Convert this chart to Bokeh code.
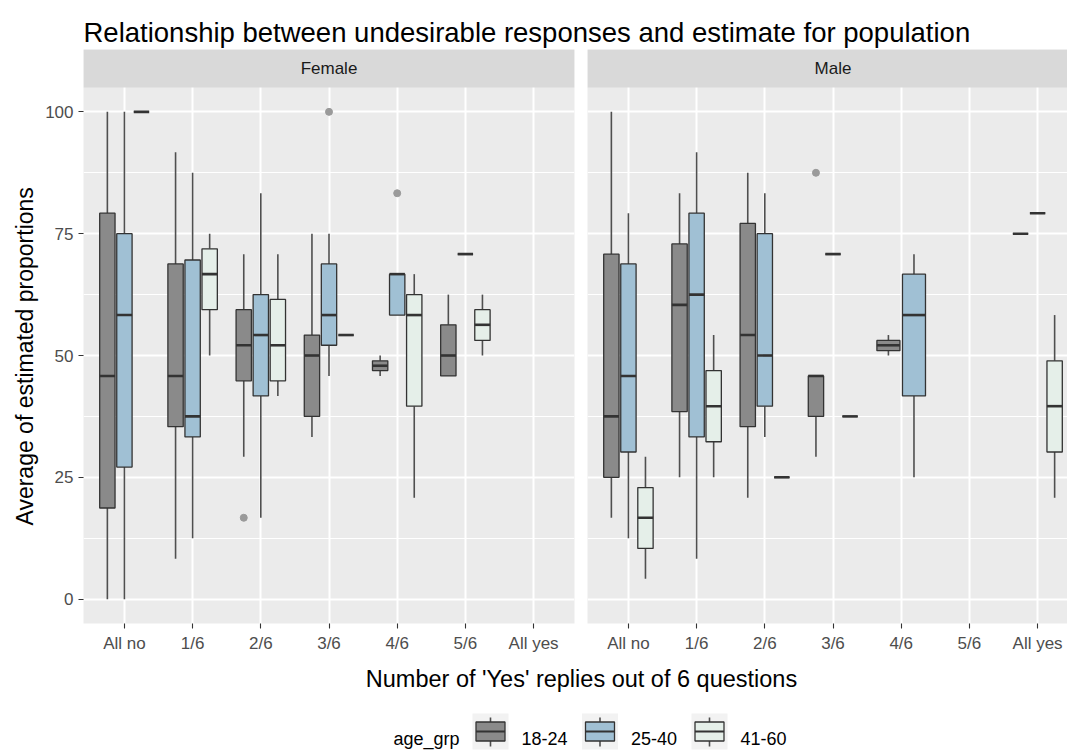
import math
from bokeh.plotting import figure
from bokeh.models import Range1d, FixedTicker, ColumnDataSource
from bokeh.layouts import column, row
from bokeh.embed import file_html
from bokeh.resources import INLINE
from bokeh.core.properties import value

# ---------------- data ----------------
categories = ["All no", "1/6", "2/6", "3/6", "4/6", "5/6", "All yes"]
age_groups = ["18-24", "25-40", "41-60"]
panels = ["Female", "Male"]

# per category: (lower whisker, Q1, median, Q3, upper whisker); None = no respondents
female_18_24 = [(0.0, 18.7, 45.8, 79.2, 100.0), (8.3, 35.4, 45.8, 68.8, 91.7),
                (29.2, 44.8, 52.1, 59.4, 70.8), (33.3, 37.5, 50.0, 54.2, 75.0),
                (45.8, 46.9, 47.9, 48.9, 50.0), (45.8, 45.8, 50.0, 56.3, 62.5), None]
female_25_40 = [(0.0, 27.1, 58.3, 75.0, 100.0), (12.5, 33.3, 37.5, 69.6, 87.5),
                (16.7, 41.7, 54.2, 62.5, 83.3), (45.8, 52.1, 58.3, 68.8, 75.0),
                (58.3, 58.3, 66.7, 66.7, 66.7), (70.8, 70.8, 70.8, 70.8, 70.8), None]
female_41_60 = [(100.0, 100.0, 100.0, 100.0, 100.0), (50.0, 59.4, 66.7, 71.9, 75.0),
                (41.7, 44.8, 52.1, 61.5, 70.8), (54.2, 54.2, 54.2, 54.2, 54.2),
                (20.8, 39.6, 58.3, 62.5, 66.7), (50.0, 53.1, 56.3, 59.4, 62.5), None]
male_18_24 = [(16.7, 25.0, 37.5, 70.8, 100.0), (25.0, 38.5, 60.4, 72.9, 83.3),
              (20.8, 35.4, 54.2, 77.1, 87.5), (29.2, 37.5, 45.8, 45.8, 45.8),
              (50.0, 51.0, 52.1, 53.1, 54.2), None, (75.0, 75.0, 75.0, 75.0, 75.0)]
male_25_40 = [(12.5, 30.2, 45.8, 68.8, 79.2), (8.3, 33.3, 62.5, 79.2, 91.7),
              (33.3, 39.6, 50.0, 75.0, 83.3), (70.8, 70.8, 70.8, 70.8, 70.8),
              (25.0, 41.7, 58.3, 66.7, 70.8), None, (79.2, 79.2, 79.2, 79.2, 79.2)]
male_41_60 = [(4.2, 10.4, 16.7, 22.9, 29.2), (25.0, 32.3, 39.6, 46.9, 54.2),
              (25.0, 25.0, 25.0, 25.0, 25.0), (37.5, 37.5, 37.5, 37.5, 37.5),
              None, None, (20.8, 30.2, 39.6, 48.9, 58.3)]

female_outlier_group = ["18-24", "25-40", "25-40"]
female_outlier_cat = ["2/6", "3/6", "4/6"]
female_outlier_val = [16.7, 100.0, 83.3]
male_outlier_group = ["18-24"]
male_outlier_cat = ["3/6"]
male_outlier_val = [87.5]

y_ticks = [0, 25, 50, 75, 100]
y_minor = [12.5, 37.5, 62.5, 87.5]

# ---------------- style ----------------
FONT_NAME = "Liberation Sans"
FONT = value(FONT_NAME)
fills = {"18-24": "#8A8A8A", "25-40": "#A0C0D4", "41-60": "#E5EFE9"}
EDGE = "#333333"
WHISK = "#4F4F4F"
PANEL_BG = "#EBEBEB"
STRIP_BG = "#D9D9D9"
Y0, Y1 = -5.0, 112.8        # includes strip band above the panel
STRIP_LO = 105.0
TOTAL_W = 1067
YT_W = 42                   # width of the y-title strip


def dodge_layout(stats):
    """Return per (group, category) x-centre and box width, ggplot dodge2 style."""
    pos = {}
    for ci, cat in enumerate(categories):
        present = [g for g in age_groups if stats[g][ci] is not None]
        n = len(present)
        if n == 0:
            continue
        slot = 0.75 / n
        for k, g in enumerate(present):
            pos[(g, cat)] = ((ci + 1) + (k - (n - 1) / 2) * slot, slot * 0.9)
    return pos


def make_panel(name, stats, out_g, out_c, out_v, width, x_end, left, right, show_y):
    p = figure(width=width, height=608, x_range=Range1d(0.4, x_end), y_range=Range1d(Y0, Y1),
               output_backend="svg", toolbar_location=None,
               min_border_left=left, min_border_right=right, min_border_top=0, min_border_bottom=34)
    p.background_fill_color = PANEL_BG
    p.border_fill_color = "white"
    p.outline_line_color = None

    xt = FixedTicker(ticks=list(range(1, len(categories) + 1)))
    yt = FixedTicker(ticks=y_ticks, minor_ticks=y_minor)
    p.xaxis.ticker = xt
    p.xgrid.ticker = xt
    p.yaxis.ticker = yt
    p.ygrid.ticker = yt
    p.xaxis.major_label_overrides = {i + 1: c for i, c in enumerate(categories)}
    for ax in (p.xaxis, p.yaxis):
        ax.axis_line_color = None
        ax.major_tick_line_color = EDGE
        ax.major_tick_line_width = 1.1
        ax.major_tick_in = 0
        ax.major_tick_out = 5
        ax.minor_tick_line_color = None
        ax.major_label_text_font = FONT_NAME
        ax.major_label_text_font_size = "17px"
        ax.major_label_text_color = "#4D4D4D"
        ax.major_label_standoff = 5
    if not show_y:
        p.yaxis.visible = False
    p.xgrid.grid_line_color = "white"
    p.xgrid.grid_line_width = 2
    p.ygrid.grid_line_color = "white"
    p.ygrid.grid_line_width = 2
    p.ygrid.minor_grid_line_color = "white"
    p.ygrid.minor_grid_line_width = 1.1

    # facet strip
    p.quad(left=[0.4], right=[len(categories) + 0.6], bottom=[STRIP_LO], top=[Y1],
           fill_color=STRIP_BG, line_color=None)
    p.text(x=[(len(categories) + 1) / 2], y=[(STRIP_LO + Y1) / 2], text=[name],
           text_font=FONT, text_font_size="17px", text_color="#1A1A1A",
           text_align="center", text_baseline="middle")

    pos = dodge_layout(stats)
    d = dict(x=[], l=[], r=[], lo=[], q1=[], med=[], q3=[], hi=[], fill=[])
    for ci, cat in enumerate(categories):
        for g in age_groups:
            s = stats[g][ci]
            if s is None:
                continue
            xc, bw = pos[(g, cat)]
            d["x"].append(xc)
            d["l"].append(xc - bw / 2)
            d["r"].append(xc + bw / 2)
            for key, v in zip(["lo", "q1", "med", "q3", "hi"], s):
                d[key].append(v)
            d["fill"].append(fills[g])
    src = ColumnDataSource(d)
    p.segment(x0="x", y0="q3", x1="x", y1="hi", source=src, line_color=WHISK, line_width=1.6)
    p.segment(x0="x", y0="q1", x1="x", y1="lo", source=src, line_color=WHISK, line_width=1.6)
    p.quad(left="l", right="r", bottom="q1", top="q3", source=src,
           fill_color="fill", line_color=EDGE, line_width=1.3)
    p.segment(x0="l", y0="med", x1="r", y1="med", source=src, line_color=EDGE, line_width=2.6)

    ox = [pos[(g, c)][0] for g, c in zip(out_g, out_c)]
    p.scatter(x=ox, y=out_v, size=7, fill_color="#9A9A9A", line_color="#9A9A9A")
    return p


female_stats = {"18-24": female_18_24, "25-40": female_25_40, "41-60": female_41_60}
male_stats = {"18-24": male_18_24, "25-40": male_25_40, "41-60": male_41_60}

px_per_unit = 491 / 7.2
pf = make_panel(panels[0], female_stats, female_outlier_group, female_outlier_cat, female_outlier_val,
                83 - YT_W + 491 + 6, 7.6, 83 - YT_W, 6, True)
pm = make_panel(panels[1], male_stats, male_outlier_group, male_outlier_cat, male_outlier_val,
                487, 0.4 + 480 / px_per_unit, 7, 0, False)


def blank(width, height, flip=True):
    p = figure(width=width, height=height, x_range=Range1d(0, width),
               y_range=Range1d(height, 0) if flip else Range1d(0, height),
               x_axis_type=None, y_axis_type=None, output_backend="svg", toolbar_location=None,
               min_border=0, min_border_left=0, min_border_right=0, min_border_top=0, min_border_bottom=0)
    p.outline_line_color = None
    p.background_fill_color = "white"
    p.border_fill_color = "white"
    return p


# title
pt = blank(TOTAL_W, 49)
pt.text(x=[83], y=[32], text=["Relationship between undesirable responses and estimate for population"],
        text_font=FONT, text_font_size="27.5px", text_color="#000000",
        text_align="left", text_baseline="alphabetic")

# y axis title
py = blank(YT_W, 608, flip=False)
py.text(x=[24], y=[608 - 325], text=["Average of estimated proportions"], angle=math.pi / 2,
        text_font=FONT, text_font_size="23px", text_color="#000000",
        text_align="center", text_baseline="alphabetic")

# x axis title and legend
pb = blank(TOTAL_W, 94)
pb.text(x=[581], y=[21], text=["Number of 'Yes' replies out of 6 questions"],
        text_font=FONT, text_font_size="23.5px", text_color="#000000",
        text_align="center", text_baseline="alphabetic")
LY = 74  # legend key centre (local)
pb.text(x=[459], y=[LY + 7], text=["age_grp"], text_font=FONT, text_font_size="18px",
        text_color="#000000", text_align="right", text_baseline="alphabetic")
kl = [472 + i * 109.5 for i in range(len(age_groups))]
kc = [k + 18 for k in kl]
pb.quad(left=kl, right=[k + 36 for k in kl], top=[LY - 18] * 3, bottom=[LY + 18] * 3,
        fill_color="#F2F2F2", line_color=None)
pb.segment(x0=kc, y0=[LY - 14] * 3, x1=kc, y1=[LY - 9.5] * 3, line_color=WHISK, line_width=1.6)
pb.segment(x0=kc, y0=[LY + 9.5] * 3, x1=kc, y1=[LY + 15] * 3, line_color=WHISK, line_width=1.6)
pb.quad(left=[k + 3.5 for k in kl], right=[k + 32.5 for k in kl], top=[LY - 9.5] * 3,
        bottom=[LY + 9.5] * 3, fill_color=[fills[g] for g in age_groups], line_color=EDGE, line_width=1.3)
pb.segment(x0=[k + 3.5 for k in kl], y0=[LY] * 3, x1=[k + 32.5 for k in kl], y1=[LY] * 3,
           line_color=EDGE, line_width=2.2)
pb.text(x=[k + 49 for k in kl], y=[LY + 7] * 3, text=age_groups, text_font=FONT, text_font_size="18px",
        text_color="#000000", text_align="left", text_baseline="alphabetic")

layout = column(pt, row(py, pf, pm), pb)
open("out.html", "w").write(file_html(layout, INLINE, title="Relationship between undesirable responses"))
